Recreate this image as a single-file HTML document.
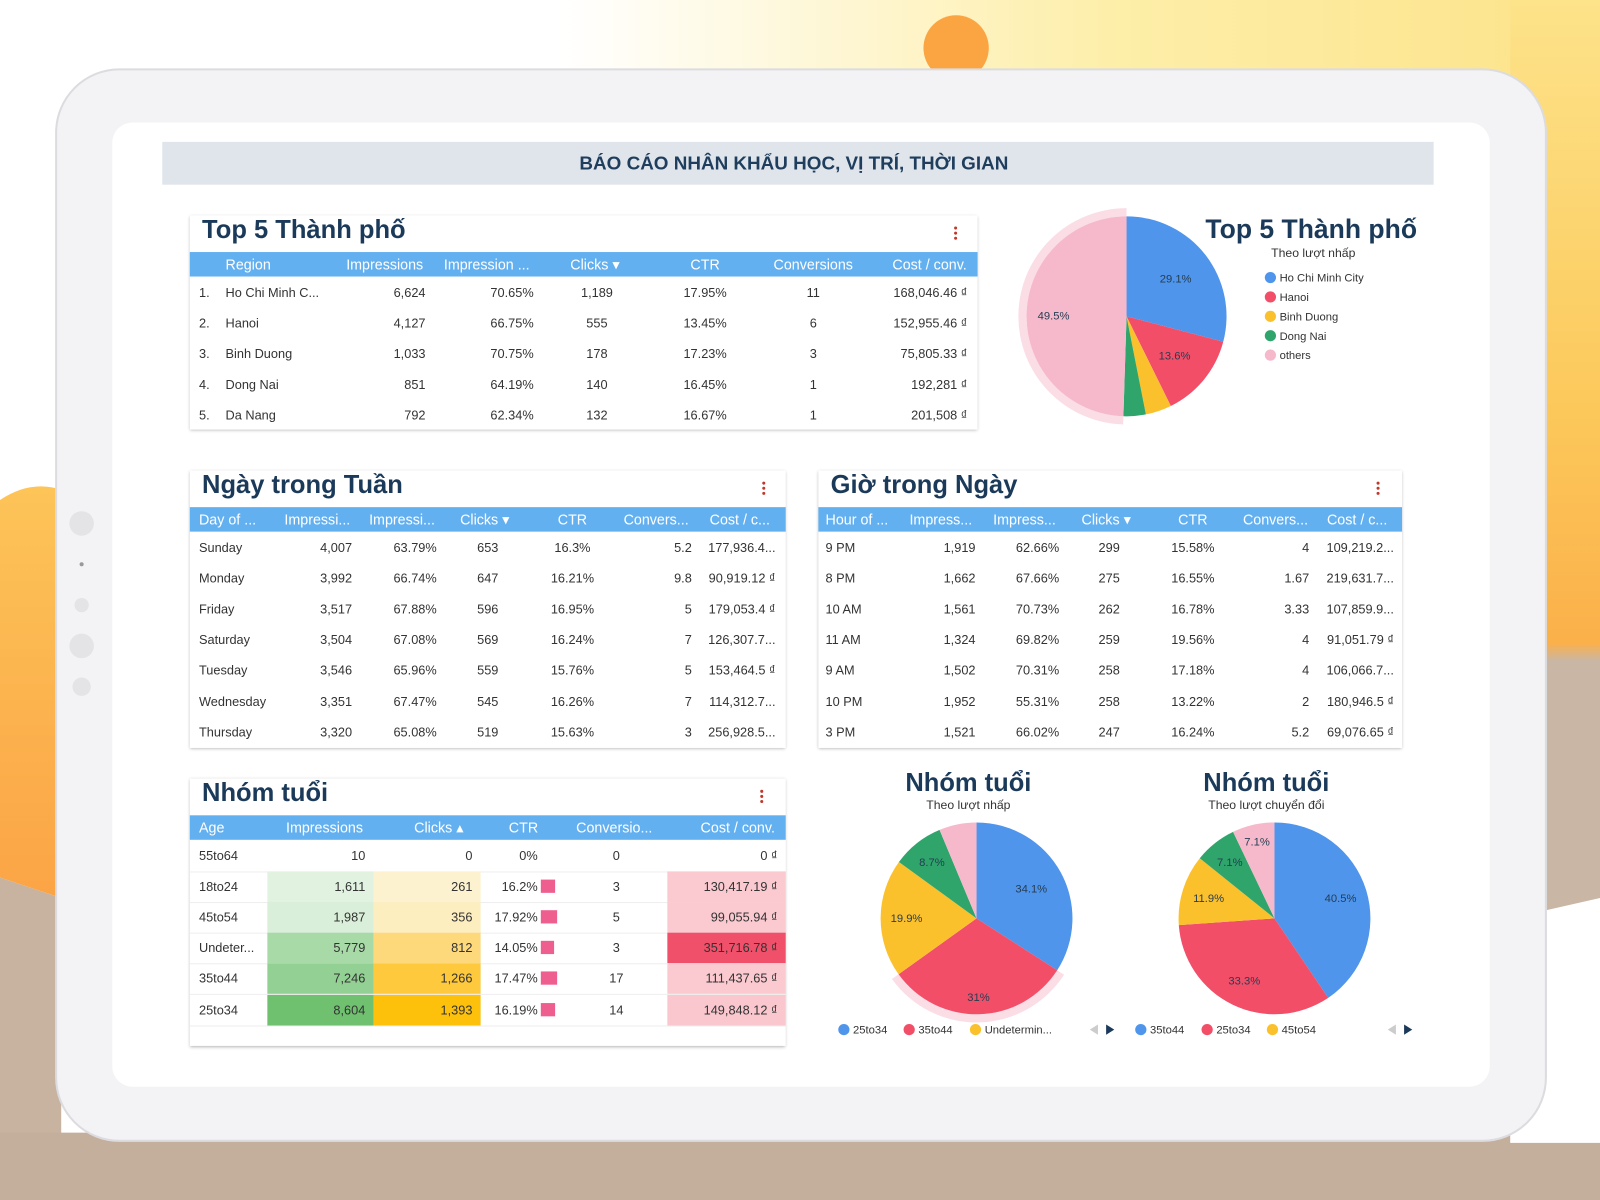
<!DOCTYPE html>
<html><head><meta charset="utf-8">
<style>
html,body{margin:0;padding:0;width:1600px;height:1200px;overflow:hidden;background:#fff;}
#stage{position:absolute;left:0;top:0;width:1568px;height:1176px;transform:scale(1.020408);transform-origin:0 0;font-family:"Liberation Sans","Noto Sans CJK SC",sans-serif;}
.abs{position:absolute;}
.card{position:absolute;background:#fff;box-shadow:0 1px 3px rgba(0,0,0,.3);}
.ctitle{position:absolute;left:12px;top:0;font-size:25px;font-weight:bold;color:#1b3a5a;white-space:nowrap;}
.hdr{position:absolute;left:0;right:0;height:24px;background:#63b0f0;}
.cell{position:absolute;font-size:12.5px;color:#333;white-space:nowrap;line-height:16px;}
.hcell{position:absolute;font-size:14px;color:#fff;white-space:nowrap;line-height:16px;}
.kebab{position:absolute;width:3px;}
.kebab i{display:block;width:3px;height:3px;border-radius:50%;background:#c0392b;margin-bottom:2px;}
</style></head><body>
<div id="stage">
<svg class="abs" style="left:0;top:0" width="1568" height="1176">
<defs>
<linearGradient id="gy" x1="0" y1="0" x2="1" y2="0"><stop offset="0" stop-color="#fff"/><stop offset="0.35" stop-color="#fff"/><stop offset="0.7" stop-color="#fdeea8"/><stop offset="1" stop-color="#fde38a"/></linearGradient>
<linearGradient id="gr" x1="0" y1="0" x2="0" y2="1"><stop offset="0" stop-color="#fde38a"/><stop offset="0.45" stop-color="#fcc85a"/><stop offset="0.7" stop-color="#fbb04a"/><stop offset="0.72" stop-color="#c9b6a4"/><stop offset="1" stop-color="#c9b6a4"/></linearGradient>
<linearGradient id="gl" x1="0" y1="0" x2="0" y2="1"><stop offset="0" stop-color="#fdc458"/><stop offset="1" stop-color="#fba446"/></linearGradient>
</defs>
<rect x="0" y="0" width="1568" height="560" fill="url(#gy)"/>
<rect x="1480" y="0" width="88" height="900" fill="url(#gr)"/>
<path d="M0 490 Q30 470 60 480 L60 880 L0 860 Z" fill="url(#gl)"/>
<path d="M0 860 L60 880 L60 1176 L0 1176 Z" fill="#c8b3a0"/>
<rect x="0" y="1110" width="1568" height="66" fill="#c4ae9c"/>
<path d="M1480 900 L1568 880 L1568 1120 L1480 1120 Z" fill="#fff"/>
<circle cx="937" cy="47" r="32" fill="#fba442"/>
<rect x="55" y="68" width="1460" height="1050" rx="62" fill="#f3f3f5" stroke="#dcdce0" stroke-width="2"/>
<rect x="110" y="120" width="1350" height="945" rx="20" fill="#fff"/>
<circle cx="80" cy="513" r="12" fill="#e4e4e6"/>
<circle cx="80" cy="553" r="2" fill="#999"/>
<circle cx="80" cy="593" r="7" fill="#e4e4e6"/>
<circle cx="80" cy="633" r="12" fill="#e4e4e6"/>
<circle cx="80" cy="673" r="9" fill="#e4e4e6"/>
<rect x="159" y="139" width="1246" height="42" fill="#dfe5eb"/>
<text x="778" y="166" text-anchor="middle" font-family="Liberation Sans, sans-serif" font-size="18.5" font-weight="bold" fill="#1f3d5c">BÁO CÁO NHÂN KHẨU HỌC, VỊ TRÍ, THỜI GIAN</text>
</svg>
<div id="cards"></div>
<svg id="pies" class="abs" style="left:0;top:0" width="1568" height="1176"></svg>
</div>
<script>
// ---------- data ----------
const cityCategories=["Ho Chi Minh City","Hanoi","Binh Duong","Dong Nai","others"];
const cityShares=[29.1,13.6,4.2,3.6,49.5];
const ageClickCategories=["25to34","35to44","Undetermined","45to54","other"];
const ageClickShares=[34.1,31,19.9,8.7,6.3];
const ageConvCategories=["35to44","25to34","45to54","18to24","other"];
const ageConvShares=[40.5,33.3,11.9,7.1,7.1];

const top5Rows=[["1.","Ho Chi Minh C...","6,624","70.65%","1,189","17.95%","11","168,046.46 ₫"],
["2.","Hanoi","4,127","66.75%","555","13.45%","6","152,955.46 ₫"],
["3.","Binh Duong","1,033","70.75%","178","17.23%","3","75,805.33 ₫"],
["4.","Dong Nai","851","64.19%","140","16.45%","1","192,281 ₫"],
["5.","Da Nang","792","62.34%","132","16.67%","1","201,508 ₫"]];
const dayRows=[["Sunday","4,007","63.79%","653","16.3%","5.2","177,936.4..."],
["Monday","3,992","66.74%","647","16.21%","9.8","90,919.12 ₫"],
["Friday","3,517","67.88%","596","16.95%","5","179,053.4 ₫"],
["Saturday","3,504","67.08%","569","16.24%","7","126,307.7..."],
["Tuesday","3,546","65.96%","559","15.76%","5","153,464.5 ₫"],
["Wednesday","3,351","67.47%","545","16.26%","7","114,312.7..."],
["Thursday","3,320","65.08%","519","15.63%","3","256,928.5..."]];
const hourRows=[["9 PM","1,919","62.66%","299","15.58%","4","109,219.2..."],
["8 PM","1,662","67.66%","275","16.55%","1.67","219,631.7..."],
["10 AM","1,561","70.73%","262","16.78%","3.33","107,859.9..."],
["11 AM","1,324","69.82%","259","19.56%","4","91,051.79 ₫"],
["9 AM","1,502","70.31%","258","17.18%","4","106,066.7..."],
["10 PM","1,952","55.31%","258","13.22%","2","180,946.5 ₫"],
["3 PM","1,521","66.02%","247","16.24%","5.2","69,076.65 ₫"]];
const ageRows=[["55to64","10","0","0%","0","0 ₫"],
["18to24","1,611","261","16.2%","3","130,417.19 ₫"],
["45to54","1,987","356","17.92%","5","99,055.94 ₫"],
["Undeter...","5,779","812","14.05%","3","351,716.78 ₫"],
["35to44","7,246","1,266","17.47%","17","111,437.65 ₫"],
["25to34","8,604","1,393","16.19%","14","149,848.12 ₫"]];
const ageImpBg=["#ffffff","#e1f2e1","#d9efd9","#a8daa8","#93d093","#6fc06f"];
const ageClickBg=["#ffffff","#fdf2d0","#fdeec0","#fed97c","#fec93c","#fdc10c"];
const ageCostBg=["#ffffff","#fbc9d0","#fbcad1","#f0506a","#fbc9d0","#fbc7cf"];

// ---------- tables ----------
const cards=document.getElementById('cards');
function card(name,x,y,w,h,title,kx){
  const c=document.createElement('div');c.className='card';
  
  
  c.style.left=x+'px';c.style.top=y+'px';c.style.width=w+'px';c.style.height=h+'px';
  const t=document.createElement('div');t.className='ctitle';t.textContent=title;
  
  
  c.appendChild(t);
  const k=document.createElement('div');k.className='kebab';k.innerHTML='<i></i><i></i><i></i>';
  
  
  k.style.left=(kx-x-1)+'px';k.style.top='11px';c.appendChild(k);
  cards.appendChild(c);return c;
}
function place(c,cls,txt,ax,al,cy,ox,oy){
  const d=document.createElement('div');d.className=cls;d.textContent=txt;
  
  
  const lx=ax-ox, ty=cy-oy-8;d.style.top=ty+'px';
  if(al==='l'){d.style.left=lx+'px';}
  else if(al==='r'){d.style.right=(parseFloat(c.style.width)-lx)+'px';}
  else{d.style.left=(lx-60)+'px';d.style.width='120px';d.style.textAlign='center';}
  c.appendChild(d);return d;
}
function table(c,ox,oy,hy,headers,hx,hal,rows,cx,cal,ry0,step){
  const h=document.createElement('div');h.className='hdr';h.style.top=(hy-oy-12)+'px';
  
  
  c.appendChild(h);
  headers.forEach((t,i)=>place(c,'hcell',t,hx[i],hal[i],hy,ox,oy));
  rows.forEach((r,j)=>r.forEach((t,i)=>place(c,'cell',t,cx[i],cal[i],ry0+j*step,ox,oy)));
}
let c1=card('top5-city-table',186,211,772,210,'Top 5 Thành phố',936);
table(c1,186,211,259,["Region","Impressions","Impression ...","Clicks ▾","CTR","Conversions","Cost / conv."],
 [221,377,477,583,691,797,911],['l','c','c','c','c','c','c'],top5Rows,
 [195,221,417,523,585,691,797,948],['l','l','r','r','c','c','c','r'],287,30.1);
let c2=card('day-of-week-table',186,461,584,272,'Ngày trong Tuần',748);
table(c2,186,461,509,["Day of ...","Impressi...","Impressi...","Clicks ▾","CTR","Convers...","Cost / c..."],
 [195,311,394,475,561,643,725],['l','c','c','c','c','c','c'],dayRows,
 [195,345,428,478,561,678,760],['l','r','r','c','c','r','r'],537,30.1);
let c3=card('hour-of-day-table',802,461,572,272,'Giờ trong Ngày',1350);
table(c3,802,461,509,["Hour of ...","Impress...","Impress...","Clicks ▾","CTR","Convers...","Cost / c..."],
 [809,922,1004,1084,1169,1250,1330],['l','c','c','c','c','c','c'],hourRows,
 [809,956,1038,1087,1169,1283,1366],['l','r','r','c','c','r','r'],537,30.1);
let c4=card('age-group-table',186,763,584,262,'Nhóm tuổi',746);
ageRows.forEach((r,j)=>{
  const top=839+j*30.1-15-763;
  [[262,366,ageImpBg[j]],[366,471,ageClickBg[j]],[654,770,ageCostBg[j]]].forEach(b=>{
    const d=document.createElement('div');d.className='abs';
    
    
    d.style.cssText+='left:'+(b[0]-186)+'px;top:'+top+'px;width:'+(b[1]-b[0])+'px;height:30px;background:'+b[2];
    c4.appendChild(d);
  });
  const ln=document.createElement('div');ln.className='abs';
  
  
  ln.style.cssText+='left:0;right:0;top:'+(top+30)+'px;height:1px;background:#eee';c4.appendChild(ln);
  const v=parseFloat(r[3]);
  const bar=document.createElement('div');bar.className='abs';
  
  
  bar.style.cssText+='left:'+(530-186)+'px;top:'+(top+8)+'px;width:'+(v/17.92*16)+'px;height:13px;background:#ee5f8f';
  c4.appendChild(bar);
});
table(c4,186,763,811,["Age","Impressions","Clicks ▴","CTR","Conversio...","Cost / conv."],
 [195,318,430,513,602,723],['l','c','c','c','c','c'],ageRows,
 [195,358,463,527,604,762],['l','r','r','r','c','r'],839,30.1);

// ---------- pies ----------
const svg=document.getElementById('pies');const NS='http://www.w3.org/2000/svg';
const colors=["#4f95ec","#f24e68","#fbc12d","#2fa56c","#f6b9cc"];
function el(tag,attrs,name){const e=document.createElementNS(NS,tag);for(const k in attrs)e.setAttribute(k,attrs[k]);
  
  
  svg.appendChild(e);return e;}
function pt(cx,cy,r,a){return [cx+r*Math.sin(a),cy-r*Math.cos(a)];}
function arcPath(cx,cy,r0,r1,a0,a1){const L=(a1-a0)>Math.PI?1:0;const p1=pt(cx,cy,r1,a0),p2=pt(cx,cy,r1,a1);
  if(r0===0)return `M${cx},${cy}L${p1}A${r1},${r1} 0 ${L} 1 ${p2}Z`;
  const p3=pt(cx,cy,r0,a1),p4=pt(cx,cy,r0,a0);return `M${p1}A${r1},${r1} 0 ${L} 1 ${p2}L${p3}A${r0},${r0} 0 ${L} 0 ${p4}Z`;}
function pie(cx,cy,r,vals,labelMin,hi,lf){
  const tot=vals.reduce((a,b)=>a+b,0);let a=0;
  vals.forEach((v,i)=>{const a1=a+v/tot*2*Math.PI;
    if(i===hi)el('path',{d:arcPath(cx,cy,r,r+8,a,a1),fill:'#fbdde6'},'pie-highlight-ring');
    el('path',{d:arcPath(cx,cy,0,r,a,a1),fill:colors[i]},'pie-slice');
    a=a1;});
  a=0;vals.forEach((v,i)=>{const a1=a+v/tot*2*Math.PI;
    if(v>=labelMin){const p=pt(cx,cy,r*(lf[i]||0.65),(a+a1)/2);
      const t=el('text',{x:p[0],y:p[1]+4,'text-anchor':'middle','font-size':11,fill:'#263d52','font-family':'Liberation Sans, sans-serif'},'pie-label');t.textContent=v+'%';}
    a=a1;});
}
pie(1104,310,98,cityShares,10,4,[0.62,0.62,0.6,0.6,0.73]);
pie(957,900,94,ageClickShares,7,1,[0.65,0.82,0.73,0.75,0.7]);
pie(1249,900,94,ageConvShares,7,-1,[0.72,0.72,0.72,0.75,0.82]);
function txt(x,y,s,size,fill,weight,anchor,name){const t=el('text',{x:x,y:y,'font-size':size,fill:fill,'font-weight':weight||'normal','text-anchor':anchor||'start','font-family':'Liberation Sans, sans-serif'},name);t.textContent=s;return t;}
txt(1285,233,'Top 5 Thành phố',26,'#1b3a5a','bold','middle','pie-title');
txt(1287,252,'Theo lượt nhấp',12,'#333','normal','middle','pie-subtitle');
cityCategories.forEach((c,i)=>{const y=272+i*19;el('circle',{cx:1245,cy:y,r:5.5,fill:colors[i]},'legend-dot');txt(1254,y+4,c,11,'#333','normal','start','legend-entry');});
txt(949,775,'Nhóm tuổi',25,'#1b3a5a','bold','middle','pie-title');
txt(949,793,'Theo lượt nhấp',12,'#333','normal','middle','pie-subtitle');
txt(1241,775,'Nhóm tuổi',25,'#1b3a5a','bold','middle','pie-title');
txt(1241,793,'Theo lượt chuyển đổi',12,'#333','normal','middle','pie-subtitle');
function legend(items,xs,y,ax){items.forEach((s,i)=>{el('circle',{cx:xs[i],cy:y,r:5.5,fill:colors[i]},'legend-dot');txt(xs[i]+9,y+4,s,11,'#333','normal','start','legend-entry');});
  el('path',{d:`M${ax+4},${y-5}L${ax-4},${y}L${ax+4},${y+5}Z`,fill:'#ccc'},'legend-prev-button');
  el('path',{d:`M${ax+12},${y-5}L${ax+20},${y}L${ax+12},${y+5}Z`,fill:'#1b3a5a'},'legend-next-button');}
legend(["25to34","35to44","Undetermin..."],[827,891,956],1009,1072);
legend(["35to44","25to34","45to54"],[1118,1183,1247],1009,1364);
</script>
</body></html>
